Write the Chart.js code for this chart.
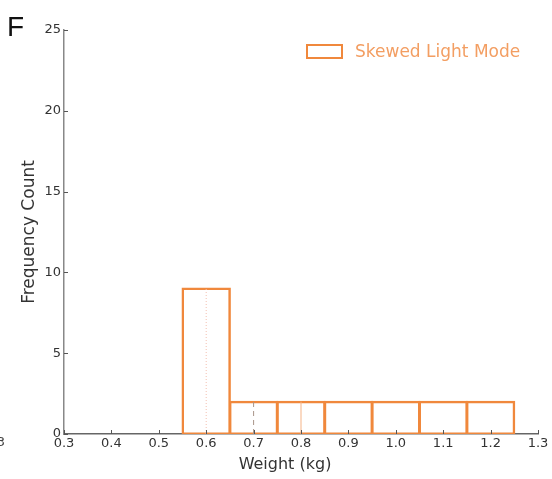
<!DOCTYPE html>
<html>
<head>
<meta charset="utf-8">
<script src="https://cdn.jsdelivr.net/npm/chart.js@4.4.1/dist/chart.umd.min.js"></script>
<style>
  html, body { margin: 0; padding: 0; background: #fff; }
  #wrap { width: 552px; height: 479px; position: relative; }
</style>
</head>
<body>
<div id="wrap"><canvas id="chart-f"></canvas></div>
<script>
'use strict';

// histogram bins (centres, kg) and counts
const binCenters = [0.4, 0.5, 0.6, 0.7, 0.8, 0.9, 1.0, 1.1, 1.2];
const binCounts  = [0, 0, 9, 2, 2, 2, 2, 2, 2];

// reference lines inside the bars: position and height
const refX   = [0.6, 0.7, 0.8];
const refTop = [9, 2, 2];
const refColor = ['#f3c0b0', '#a89488', '#f5b386'];
const refDash  = [[1, 2], [5, 4], []];

const yTicks = [0, 5, 10, 15, 20, 25];
const xTicks = [0.3, 0.4, 0.5, 0.6, 0.7, 0.8, 0.9, 1.0, 1.1, 1.2, 1.3];

const ORANGE = '#f0883c';
const FONT = "'DejaVu Sans', sans-serif";

const refSets = refX.map((x, i) => ({
  type: 'line',
  label: 'ref' + i,
  data: [{ x, y: 0 }, { x, y: refTop[i] }],
  borderColor: refColor[i],
  borderWidth: 1,
  borderDash: refDash[i],
  pointRadius: 0,
  order: 0,
}));

// inward tick marks, axis titles, panel letter and the legend box
const decor = {
  id: 'decor',
  afterDraw(chart) {
    const { ctx, chartArea: a, scales: { x, y } } = chart;
    ctx.save();
    ctx.strokeStyle = '#555';
    ctx.lineWidth = 1;
    yTicks.forEach(v => {
      const py = Math.round(y.getPixelForValue(v)) + 0.5;
      ctx.beginPath(); ctx.moveTo(a.left, py); ctx.lineTo(a.left + 4, py); ctx.stroke();
    });
    xTicks.forEach(v => {
      const px = Math.round(x.getPixelForValue(v)) + 0.5;
      ctx.beginPath(); ctx.moveTo(px, a.bottom); ctx.lineTo(px, a.bottom - 4); ctx.stroke();
    });

    ctx.fillStyle = '#333';
    ctx.font = '16px ' + FONT;
    ctx.textAlign = 'center';
    ctx.textBaseline = 'middle';
    ctx.fillText('Weight (kg)', 285, 465);
    ctx.save();
    ctx.translate(30, 232);
    ctx.rotate(-Math.PI / 2);
    ctx.font = '17px ' + FONT;
    ctx.fillText('Frequency Count', 0, 0);
    ctx.restore();

    ctx.textBaseline = 'alphabetic';
    ctx.fillStyle = '#111';
    ctx.font = "28px 'Liberation Sans', sans-serif";
    ctx.textAlign = 'left';
    ctx.fillText('F', 7, 36);

    ctx.fillStyle = '#444';
    ctx.font = '13px ' + FONT;
    ctx.textAlign = 'right';
    ctx.fillText('3', 5, 446);

    // legend
    ctx.strokeStyle = ORANGE;
    ctx.lineWidth = 2;
    ctx.fillStyle = '#fff';
    ctx.fillRect(307, 45, 35, 13);
    ctx.strokeRect(307, 45, 35, 13);
    ctx.fillStyle = '#f39e62';
    ctx.font = '17px ' + FONT;
    ctx.textAlign = 'left';
    ctx.fillText('Skewed Light Mode', 355, 57);
    ctx.restore();
  }
};

new Chart(document.getElementById('chart-f'), {
  type: 'bar',
  data: {
    datasets: [{
      label: 'Skewed Light Mode',
      data: binCenters.map((c, i) => ({ x: c, y: binCounts[i] })),
      backgroundColor: 'rgba(255,255,255,0)',
      borderColor: ORANGE,
      // thin border plus inflation keeps the outline centred on the bin edges
      borderWidth: 0.5,
      borderSkipped: false,
      inflateAmount: 1,
      barPercentage: 1,
      categoryPercentage: 1,
      order: 1,
    }, ...refSets],
  },
  options: {
    responsive: true,
    maintainAspectRatio: false,
    animation: false,
    layout: { padding: { left: 0, top: 30, right: 14, bottom: 0 } },
    plugins: { legend: { display: false }, tooltip: { enabled: false } },
    scales: {
      x: {
        type: 'linear',
        min: 0.3, max: 1.3,
        offset: false,
        afterFit: s => { s.height = 45; },
        afterBuildTicks: s => { s.ticks = xTicks.map(v => ({ value: v })); },
        ticks: {
          padding: 2,
          color: '#333',
          font: { family: FONT, size: 13 },
          maxRotation: 0,
          callback: v => Number(v).toFixed(1),
        },
        grid: { display: false, drawTicks: false, offset: false },
        border: { display: true, color: '#666', width: 1.5 },
      },
      y: {
        min: 0, max: 25,
        afterFit: s => { s.width = 64; },
        afterBuildTicks: s => { s.ticks = yTicks.map(v => ({ value: v })); },
        ticks: { padding: 3, color: '#333', font: { family: FONT, size: 13 } },
        grid: { display: false, drawTicks: false },
        border: { display: true, color: '#888', width: 1.5 },
      },
    },
  },
  plugins: [decor],
});
</script>
</body>
</html>
